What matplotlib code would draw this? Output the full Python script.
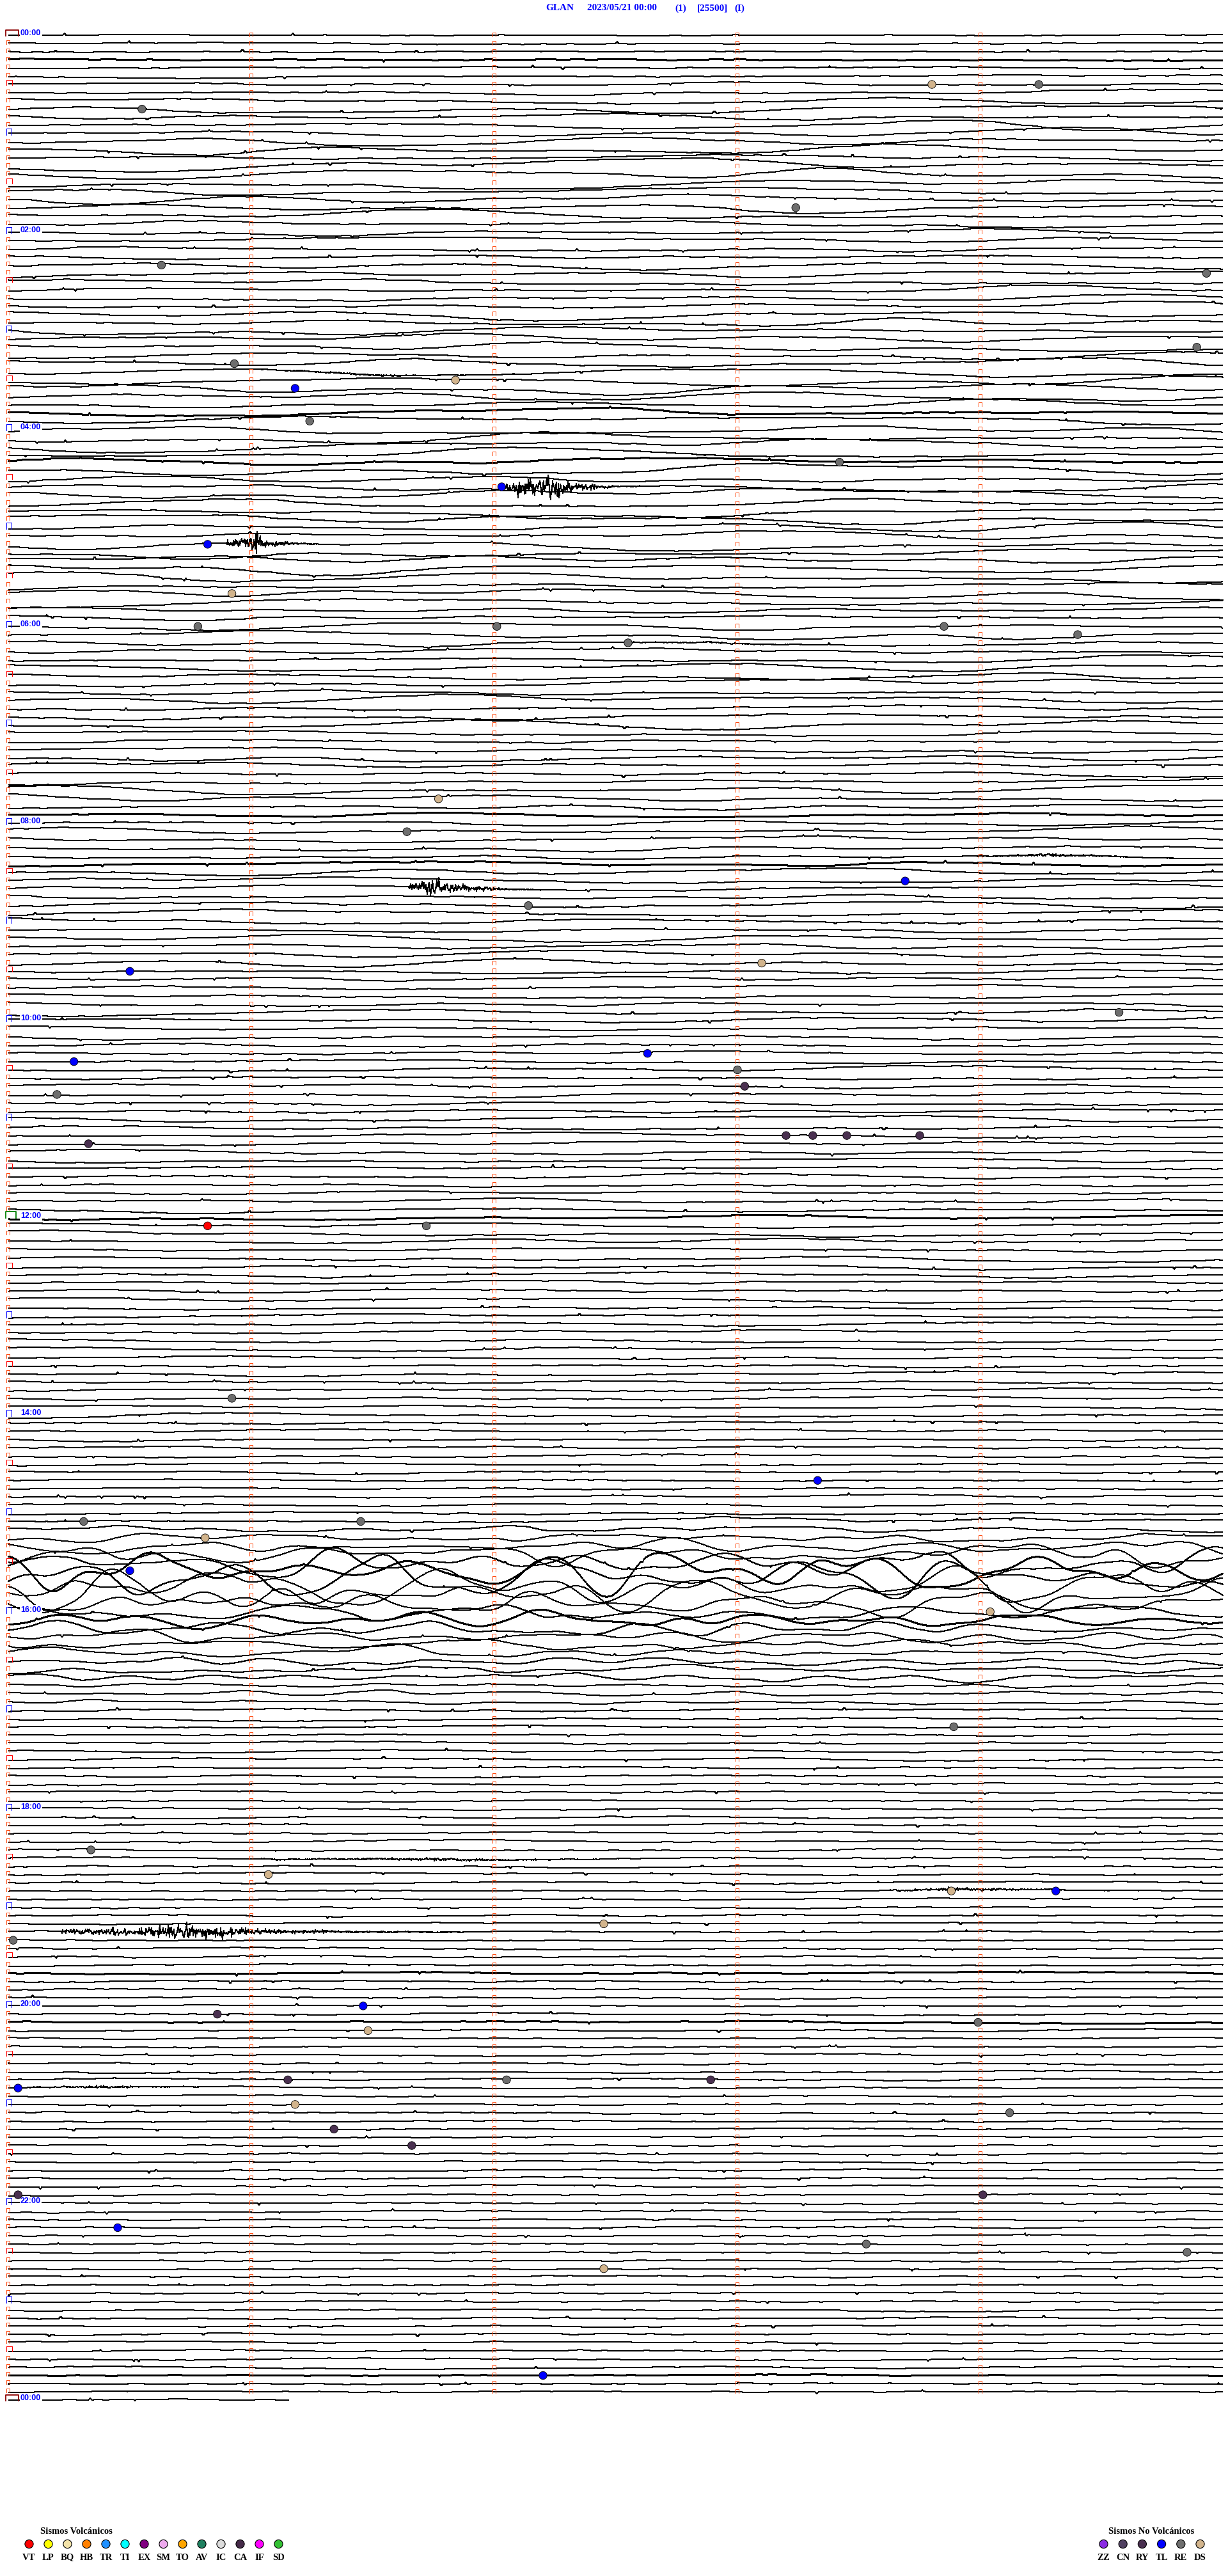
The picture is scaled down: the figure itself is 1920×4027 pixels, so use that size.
import numpy as np
import matplotlib
matplotlib.use("Agg")
import matplotlib.pyplot as plt
from matplotlib.collections import LineCollection

# ---------------- data ----------------
title_parts = ["GLAN", "2023/05/21 00:00", "(1)", "[25500]", "(I)"]
hour_labels = ["00:00", "02:00", "04:00", "06:00", "08:00", "10:00", "12:00",
               "14:00", "16:00", "18:00", "20:00", "22:00", "00:00"]
minutes_per_line = 5
n_lines = 288
last_line_minutes = 1.16

# events: time in minutes after 00:00 and type code
event_time = [33.80, 34.24, 45.55, 108.24, 140.63, 149.93, 194.89, 200.93, 211.84, 216.18,
              236.24, 263.42, 277.03, 310.82, 340.92, 360.78, 362.01, 363.85, 369.40, 372.55,
              466.77, 486.64, 518.69, 532.14, 568.10, 570.50, 599.57, 622.63, 625.27, 633.00,
              643.03, 645.20, 673.20, 673.31, 673.45, 673.75, 675.33, 725.82, 726.72, 830.92,
              883.33, 905.31, 906.45, 915.81, 935.50, 964.04, 1033.89, 1105.34, 1121.07, 1133.88,
              1134.31, 1152.45, 1160.02, 1201.46, 1205.86, 1213.99, 1216.48, 1246.15, 1247.05, 1247.89,
              1250.04, 1261.18, 1269.12, 1276.34, 1286.66, 1315.04, 1319.01, 1335.45, 1348.53, 1354.85,
              1362.45, 1427.20]
event_type = ["DS", "RE", "RE", "RE", "RE", "RE", "RE", "RE", "DS", "TL",
              "RE", "RE", "TL", "TL", "DS", "RE", "RE", "RE", "RE", "RE",
              "DS", "RE", "TL", "RE", "DS", "TL", "RE", "TL", "TL", "RE",
              "RY", "RE", "RY", "RY", "RY", "RY", "RY", "VT", "RE", "RE",
              "TL", "RE", "RE", "DS", "TL", "DS", "RE", "RE", "DS", "DS",
              "TL", "DS", "RE", "TL", "RY", "RE", "DS", "RY", "RE", "RY",
              "TL", "DS", "RE", "RY", "RY", "RY", "RY", "TL", "RE", "RE",
              "DS", "TL"]

volc_codes = ["VT", "LP", "BQ", "HB", "TR", "TI", "EX", "SM", "TO", "AV", "IC", "CA", "IF", "SD"]
volc_colors = ["#ff0000", "#ffff00", "#f2e2a8", "#ff8000", "#1e90ff", "#00ffff", "#800080",
               "#eeaaee", "#ffa500", "#1f8060", "#dcdcdc", "#452a48", "#ff00ff", "#33c033"]
nonvolc_codes = ["ZZ", "CN", "RY", "TL", "RE", "DS"]
nonvolc_colors = ["#8a2be2", "#504060", "#4a3050", "#0000ff", "#6e6e6e", "#d2b48c"]

# background swell level (px, std) per half hour
swell_amp_halfhour = [0.5, 2.5, 4.0, 4.2, 2.2, 3.5, 4.0, 4.2, 4.2, 4.2, 4.0, 3.8,
                      3.2, 3.0, 2.6, 2.6, 2.8, 2.8, 2.6, 2.4, 2.0, 2.0, 1.8, 1.8,
                      2.2, 1.8, 1.5, 1.5, 1.3, 1.3, 1.6, 1.8, 1.8, 1.5, 1.3, 1.1,
                      1.0, 1.0, 0.9, 0.9, 0.8, 0.8, 0.8, 0.8, 0.8, 0.8, 0.8, 0.8]
# ocean-storm like oscillations (px) on lines 181..204
storm_lines = list(range(181, 205))
storm_amp = [1, 4, 5, 8, 14, 22, 28, 28, 26, 22, 16, 12, 10, 9, 8, 7, 6, 5, 4, 4, 3, 3, 2, 2]
# seismic signals: line, start, peak, end (minutes in line), amplitude px
burst_line = [55, 62, 104, 231, 100, 41, 250, 74, 222, 226]
burst_start = [2.04, 0.90, 1.65, 0.22, 3.98, 1.03, 0.06, 2.56, 1.03, 3.62]
burst_peak = [2.22, 1.01, 1.72, 0.73, 4.30, 1.50, 0.40, 2.90, 1.80, 3.90]
burst_end = [2.60, 1.30, 2.20, 2.00, 5.00, 2.00, 0.90, 3.50, 2.80, 4.90]
burst_amp = [40, 22, 28, 18, 3, 2, 3, 2, 3, 4]

# ---------------- layout ----------------
W, H, DPI = 1920, 4027, 100
x0_px, x1_px = 13, 1913
y0_px, y1_px = 55, 3752
px_min = (x1_px - x0_px) / minutes_per_line
px_line = (y1_px - y0_px) / n_lines

fig = plt.figure(figsize=(W / DPI, H / DPI), dpi=DPI)
fig.patch.set_facecolor("white")
ax = fig.add_axes([x0_px / W, 1 - y1_px / H, (x1_px - x0_px) / W, (y1_px - y0_px) / H])
ax.set_xlim(0, minutes_per_line)
ax.set_ylim(n_lines, 0)
ax.axis("off")

ov = fig.add_axes([0, 0, 1, 1], zorder=10)
ov.set_xlim(0, W)
ov.set_ylim(H, 0)
ov.axis("off")
ov.patch.set_alpha(0)

# ---------------- traces ----------------
spl = int(round(px_min * minutes_per_line))
total = n_lines * spl + int(last_line_minutes * px_min)
rng = np.random.default_rng(2023)


def gsmooth(x, sigma):
    r = int(3 * sigma)
    k = np.exp(-0.5 * (np.arange(-r, r + 1) / sigma) ** 2)
    k /= k.sum()
    return np.convolve(x, k, mode="same")


tmin = np.arange(total) / px_min
swell = gsmooth(rng.standard_normal(total), 85)
swell /= swell.std()
hh_t = np.arange(48) * 30 + 15
env = np.interp(tmin, hh_t, swell_amp_halfhour)
offset = swell * env

fine = gsmooth(rng.standard_normal(total), 9.0)
fine /= fine.std()
offset += 0.35 * fine
blip_mask = rng.random(total) < 0.0015
offset += gsmooth(blip_mask * rng.choice([-2.5, 2.5], total), 1.0) * 2.5

storm_noise = gsmooth(rng.standard_normal(total), 28)
storm_noise -= gsmooth(storm_noise, 120)
storm_noise /= storm_noise.std()
line_t = np.array(storm_lines) * minutes_per_line + 2.5
storm_env = np.interp(tmin, line_t, storm_amp, left=0, right=0)
offset += storm_noise * storm_env / 2.0

hf = rng.standard_normal(total)
for ln, a, p, b, amp in zip(burst_line, burst_start, burst_peak, burst_end, burst_amp):
    ta = ln * minutes_per_line + a
    tp = ln * minutes_per_line + p
    tb = ln * minutes_per_line + b
    e = np.zeros(total)
    m1 = (tmin >= ta) & (tmin < tp)
    e[m1] = 0.3 + 0.7 * ((tmin[m1] - ta) / (tp - ta)) ** 2
    m2 = (tmin >= tp) & (tmin <= tb)
    e[m2] = np.exp(-(tmin[m2] - tp) / ((tb - tp) / 4.0))
    offset += amp * e * hf / 3.0

offset = np.round(offset)

segs = []
for i in range(n_lines + 1):
    s = i * spl
    e_ = min(total, s + spl)
    if e_ <= s:
        break
    xs = np.arange(e_ - s) / px_min
    ys = i - offset[s:e_] / px_line
    segs.append(np.column_stack([xs, ys]))
ax.add_collection(LineCollection(segs, colors="black", linewidths=0.75, zorder=2,
                                 antialiaseds=False, clip_on=False))

# ---------------- minute / hour marks ----------------
def bracket(xc_min, line, xl, xr, top, bot):
    xa = xc_min + xl / px_min
    xb = xc_min + xr / px_min
    yt = line - top / px_line
    yb = line + bot / px_line
    return [(xa, yb), (xa, yt), (xb, yt), (xb, yb)]

orange, red_m, blue_m = [], [], []
for i in range(n_lines + 1):
    if i % 12 == 0:
        if i not in (0, 144, n_lines):
            blue_m.append(bracket(0, i, -3, 5, 8, 2))
    elif i % 12 == 6:
        red_m.append(bracket(0, i, -3, 6, 7, 1))
    else:
        orange.append(bracket(0, i, -3, 2, 5, 1))
    if i < n_lines:
        for c in range(1, minutes_per_line):
            orange.append(bracket(c, i, -3, 2, 4, 2))
ax.add_collection(LineCollection(orange, colors="#ff4a10", linewidths=0.72, zorder=3,
                                 clip_on=False, antialiaseds=False))
ax.add_collection(LineCollection(red_m, colors="#ff0000", linewidths=0.72, zorder=3,
                                 clip_on=False, antialiaseds=False))
ax.add_collection(LineCollection(blue_m, colors="#0000ff", linewidths=0.72, zorder=3,
                                 clip_on=False, antialiaseds=False))
ax.add_collection(LineCollection([bracket(0, 0, -4, 16, 8, 2), bracket(0, n_lines, -4, 16, 8, 2)],
                                colors="#8b0000", linewidths=1.3, zorder=3, clip_on=False))
ax.add_collection(LineCollection([bracket(0, 144, -4, 12, 10, 1)],
                                colors="#008000", linewidths=1.3, zorder=3, clip_on=False))

for k, lab in enumerate(hour_labels):
    ax.text(19 / px_min, k * 24 - 3 / px_line, lab, color="#0000ff", fontsize=9,
            family="Liberation Sans", fontweight="bold", ha="left", va="center", zorder=4,
            bbox=dict(facecolor="white", edgecolor="none", pad=1.0), clip_on=False)

# ---------------- events ----------------
all_codes = volc_codes + nonvolc_codes
all_colors = volc_colors + nonvolc_colors
cmap = dict(zip(all_codes, all_colors))
et = np.array(event_time)
ev_line = np.floor(et / minutes_per_line)
ev_x = et - ev_line * minutes_per_line
ax.scatter(ev_x, ev_line, s=80, c=[cmap[t] for t in event_type], edgecolors="black",
           linewidths=0.6, zorder=5, clip_on=False)

# ---------------- title ----------------
title_x = [853, 918, 1055, 1090, 1148]
for tx, tp in zip(title_x, title_parts):
    ov.text(tx, 13, tp, color="#0000ff", fontsize=11, family="Liberation Serif",
            fontweight="bold", ha="left", va="center")

# ---------------- legends ----------------
vx = 45.5 + 30 * np.arange(len(volc_codes))
ov.text(63, 3957, "Sismos Volcánicos", fontsize=10.5, family="Liberation Serif",
        fontweight="bold", ha="left", va="center", color="black")
ov.scatter(vx, np.full(len(vx), 3977), s=90, c=volc_colors, edgecolors="black", linewidths=0.8)
for x, c in zip(vx, volc_codes):
    ov.text(x, 3998, c, fontsize=10.5, family="Liberation Serif", fontweight="bold",
            ha="center", va="center", color="black")

nx = 1725.5 + 30.2 * np.arange(len(nonvolc_codes))
ov.text(1733, 3957, "Sismos No Volcánicos", fontsize=10.5, family="Liberation Serif",
        fontweight="bold", ha="left", va="center", color="black")
ov.scatter(nx, np.full(len(nx), 3977), s=90, c=nonvolc_colors, edgecolors="black", linewidths=0.8)
for x, c in zip(nx, nonvolc_codes):
    ov.text(x, 3998, c, fontsize=10.5, family="Liberation Serif", fontweight="bold",
            ha="center", va="center", color="black")

fig.savefig("out.png", dpi=DPI, facecolor="white")
